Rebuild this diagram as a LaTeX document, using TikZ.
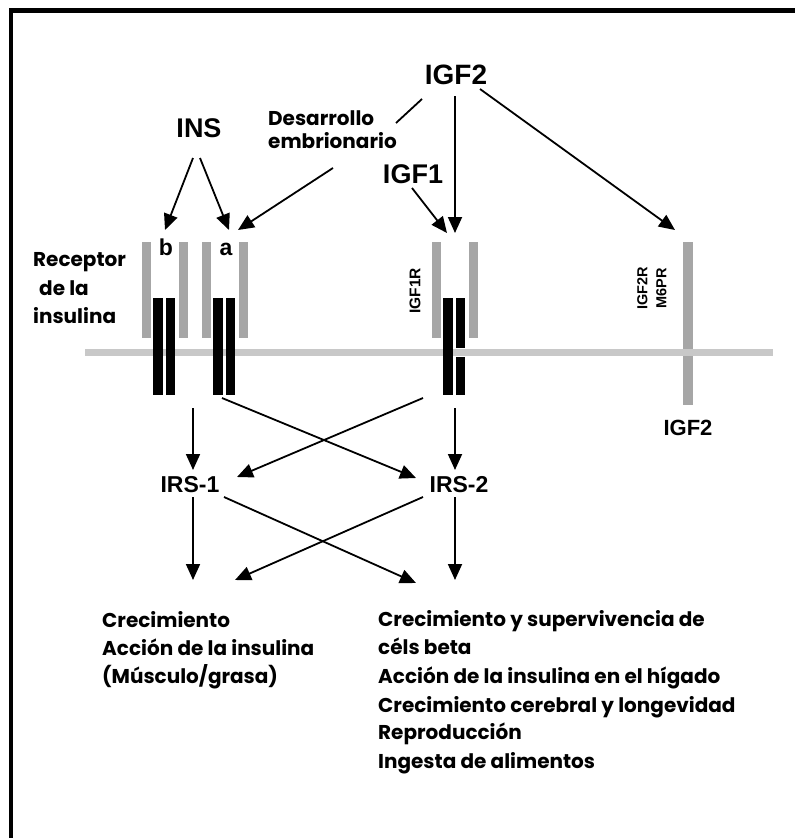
\documentclass[tikz,border=0pt]{standalone}
\usepackage{fontspec}
\newfontfamily\arialf{Liberation Sans}
\newfontfamily\geof{Poppins}
\usetikzlibrary{arrows.meta}
\definecolor{recgray}{HTML}{A6A6A6}
\definecolor{memgray}{HTML}{C8C8C8}
\tikzset{
  hlabel/.style={font=\arialf\bfseries\fontsize{#1}{#1}\selectfont, inner sep=0pt},
  hlabel/.default=27,
  irslabel/.style={font=\arialf\bfseries\fontsize{23}{23}\selectfont, inner sep=0pt},
  geotext/.style={font=\geof\bfseries\fontsize{20}{20}\selectfont, inner sep=0pt, anchor=base west},
  arr/.style={draw=black, line width=1.8pt, -{Triangle[length=16pt,width=14pt]}},
  plainline/.style={draw=black, line width=1.8pt},
  gbar/.style={fill=recgray},
  bbar/.style={fill=black},
}
\begin{document}
\begin{tikzpicture}[x=1pt,y=1pt]
\useasboundingbox (0,0) rectangle (795,-838);
\fill[white] (0,0) rectangle (795,-838);

% frame (top and left edges)
\draw[line width=4.5pt] (11,-838) -- (11,-10.5) -- (795,-10.5);

% extracellular receptor chains (grey)
\fill[gbar] (141.7,-241.7) rectangle (150.7,-338.3);
\fill[gbar] (179,-241.7) rectangle (187.5,-338.3);
\fill[gbar] (201.7,-241.7) rectangle (210.7,-338.3);
\fill[gbar] (239,-241.7) rectangle (247.7,-338.3);
\fill[gbar] (431.7,-241.7) rectangle (441,-338.3);
\fill[gbar] (469,-241.7) rectangle (478.3,-338.3);
\fill[gbar] (683,-242) rectangle (693,-405);

% membrane
\fill[memgray] (85,-349) rectangle (773,-356);

% transmembrane chains (black)
\fill[bbar] (153,-298) rectangle (163,-395);
\fill[bbar] (165.7,-298) rectangle (175,-395);
\fill[bbar] (213,-298) rectangle (222.7,-395);
\fill[bbar] (226,-298) rectangle (235,-395);
\fill[bbar] (443,-298) rectangle (453,-395);
\fill[bbar] (455.7,-298) rectangle (465,-348);
\fill[bbar] (455.7,-357) rectangle (465,-395);

% ligands and labels
\node[hlabel=28] (igf2) at (456,-75) {IGF2};
\node[hlabel] (ins) at (199,-128) {INS};
\node[hlabel] (igf1) at (413,-174) {IGF1};
\node[hlabel=23, anchor=base] (recb) at (166,-255) {b};
\node[hlabel=23, anchor=base] (reca) at (226,-255) {a};
\node[hlabel=22] (igf2b) at (688,-428) {IGF2};
\node[hlabel=15.5, rotate=90] (igf1r) at (415,-291) {IGF1R};
\node[hlabel=14.5, rotate=90, align=center, font=\arialf\bfseries\fontsize{14.5}{19}\selectfont] (igf2r) at (652,-288) {IGF2R\\M6PR};
\node[irslabel] (irs1) at (190,-485) {IRS-1};
\node[irslabel] (irs2) at (459,-485) {IRS-2};

\node[geotext] (des1) at (268,-125) {Desarrollo};
\node[geotext] (des2) at (268,-148) {embrionario};
\node[geotext] (rec1) at (33,-266) {Receptor};
\node[geotext] (rec2) at (39,-295) {de la};
\node[geotext] (rec3) at (33,-323) {insulina};

\node[geotext] (l1) at (102,-627) {Crecimiento};
\node[geotext] (l2) at (102,-655) {Acción de la insulina};
\node[geotext] (l3) at (102,-683) {(Músculo/grasa)};

\node[geotext] (r1) at (378,-626) {Crecimiento y supervivencia de};
\node[geotext] (r2) at (378,-654) {céls beta};
\node[geotext] (r3) at (378,-683) {Acción de la insulina en el hígado};
\node[geotext] (r4) at (378,-712) {Crecimiento cerebral y longevidad};
\node[geotext] (r5) at (378,-739) {Reproducción};
\node[geotext] (r6) at (378,-768) {Ingesta de alimentos};

% connector end points
\coordinate (insL) at (193,-158);
\coordinate (insR) at (200,-158);
\coordinate (bTop) at (165,-230);
\coordinate (aTop) at (229,-230);
\coordinate (aTopR) at (238,-230);
\coordinate (desOut) at (333,-168);
\coordinate (igf2Lo) at (422,-99);
\coordinate (desIn) at (396,-123);
\coordinate (igf2Down) at (455,-96);
\coordinate (igf1rTop) at (455,-233);
\coordinate (igf1Out) at (412,-188);
\coordinate (igf1rTopL) at (447,-233);
\coordinate (igf2Right) at (480,-89);
\coordinate (igf2rTop) at (675,-230);

\coordinate (bBot) at (193,-408);
\coordinate (aBot) at (222,-398);
\coordinate (igf1rBotL) at (423,-398);
\coordinate (igf1rBot) at (455,-408);
\coordinate (irs1In) at (193,-470);
\coordinate (irs1InR) at (237,-477);
\coordinate (irs2In) at (455,-470);
\coordinate (irs2InL) at (416,-478);

\coordinate (irs1Out) at (193,-497);
\coordinate (irs1OutR) at (224,-497);
\coordinate (irs2OutL) at (423,-497);
\coordinate (irs2Out) at (455,-497);
\coordinate (leftA) at (193,-580);
\coordinate (leftB) at (235,-580);
\coordinate (rightA) at (416,-583);
\coordinate (rightB) at (455,-580);

% ligand binding
\draw[arr] (insL) -- (bTop);
\draw[arr] (insR) -- (aTop);
\draw[arr] (desOut) -- (aTopR);
\draw[plainline] (igf2Lo) -- (desIn);
\draw[arr] (igf2Down) -- (igf1rTop);
\draw[arr] (igf1Out) -- (igf1rTopL);
\draw[arr] (igf2Right) -- (igf2rTop);

% receptor to substrate
\draw[arr] (bBot) -- (irs1In);
\draw[arr] (aBot) -- (irs2InL);
\draw[arr] (igf1rBotL) -- (irs1InR);
\draw[arr] (igf1rBot) -- (irs2In);

% substrate to outcomes
\draw[arr] (irs1Out) -- (leftA);
\draw[arr] (irs1OutR) -- (rightA);
\draw[arr] (irs2OutL) -- (leftB);
\draw[arr] (irs2Out) -- (rightB);
\end{tikzpicture}
\end{document}
